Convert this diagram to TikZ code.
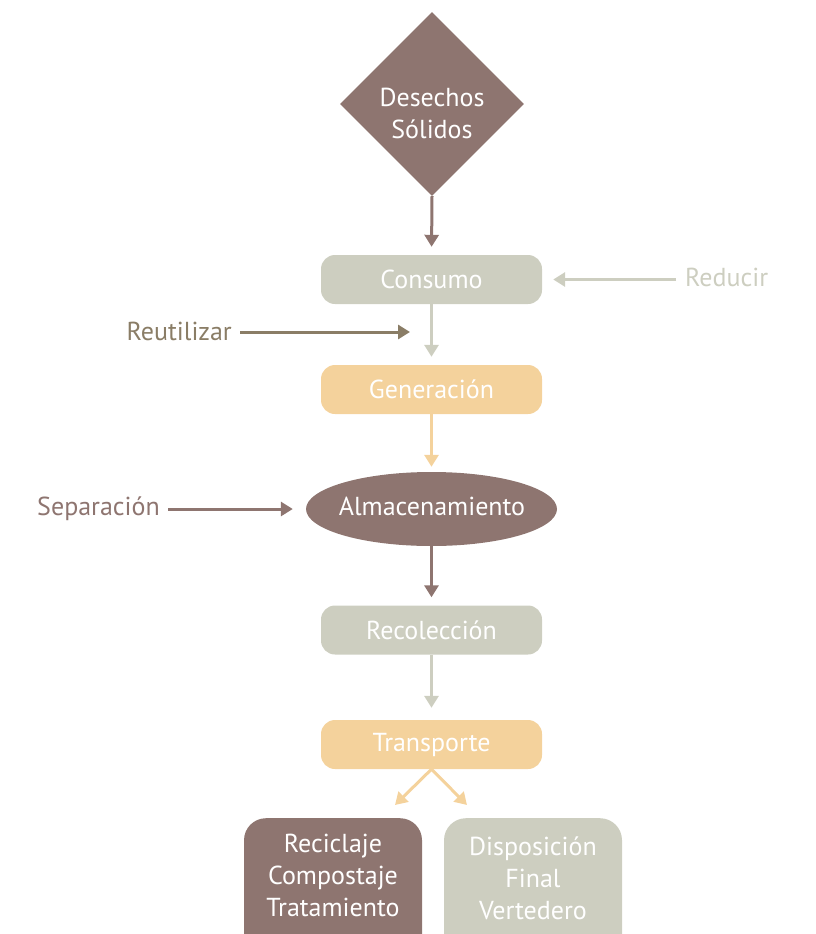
\documentclass[tikz,border=0pt]{standalone}
\usepackage{fontspec}
\setmainfont{PT Sans}
\usetikzlibrary{shapes.geometric,arrows.meta}
\definecolor{cbrown}{HTML}{8E7570}
\definecolor{cgray}{HTML}{CDCEC0}
\definecolor{corange}{HTML}{F4D29C}
\definecolor{colive}{HTML}{8A7D66}
\tikzset{
  lbl/.style={font=\fontsize{26}{32}\selectfont, text=white, align=center, inner sep=0pt},
  box/.style={lbl, rounded corners=14pt, minimum width=221pt, minimum height=49pt},
  side/.style={font=\fontsize{26}{32}\selectfont, inner sep=0pt},
  conn/.style={line width=3pt, -{Triangle[width=14pt,length=12pt]}},
}
\begin{document}
\begin{tikzpicture}[x=1pt,y=-1pt]
\useasboundingbox (0,0) rectangle (815,934);
\clip (0,0) rectangle (815,934);
\node[diamond, fill=cbrown, minimum width=184pt, minimum height=184pt, aspect=1, inner sep=0pt] (des) at (432,104) {};
\node[lbl] (destext) at (432,113) {Desechos\\Sólidos};
\node[box, fill=cgray] (con) at (431.5,279.5) {Consumo};
\node[box, fill=corange] (gen) at (431.5,389.5) {Generación};
\node[ellipse, fill=cbrown, minimum width=251pt, minimum height=74pt, inner sep=0pt] (alm) at (431.5,509) {};
\node[lbl] (almtext) at (432,506) {Almacenamiento};
\node[box, fill=cgray] (rec) at (431.5,630) {Recolección};
\node[box, fill=corange] (tra) at (431.5,744.5) {Transporte};
\node[lbl, fill=cbrown, rounded corners=22pt, minimum width=178pt, minimum height=140pt, anchor=north] (rcl) at (333,818) {};
\node[lbl] (rcltext) at (333,875) {Reciclaje\\Compostaje\\Tratamiento};
\node[lbl, fill=cgray, rounded corners=22pt, minimum width=178pt, minimum height=140pt, anchor=north] (dis) at (533,818) {};
\node[lbl] (distext) at (533,878) {Disposición\\Final\\Vertedero};
\node[side, text=cgray, anchor=west] (red) at (685,277) {Reducir};
\node[side, text=colive, anchor=east] (reu) at (232,331) {Reutilizar};
\node[side, text=cbrown, anchor=east] (sep) at (160,509) {Separación};
\coordinate (reuend) at (410,332);
\coordinate (tl) at (395,805);
\coordinate (tr) at (467,805);
\draw[conn, cbrown, shorten >=8pt] (des.south) -- (con.north);
\draw[conn, cgray, shorten >=8pt] (con.south) -- (gen.north);
\draw[conn, corange, shorten >=5pt] (gen.south) -- (alm.north);
\draw[conn, cbrown, shorten >=8pt] (alm.south) -- (rec.north);
\draw[conn, cgray, shorten >=12pt] (rec.south) -- (tra.north);
\draw[conn, cgray, shorten <=9pt, shorten >=11pt] (red.west |- con.east) -- (con.east);
\draw[conn, colive, shorten <=8pt] (reu.east |- reuend) -- (reuend);
\draw[conn, cbrown, shorten <=8pt, shorten >=13pt] (sep.east |- alm.west) -- (alm.west);
\draw[conn, corange] (tra.south) -- (tl);
\draw[conn, corange] (tra.south) -- (tr);
\end{tikzpicture}
\end{document}
